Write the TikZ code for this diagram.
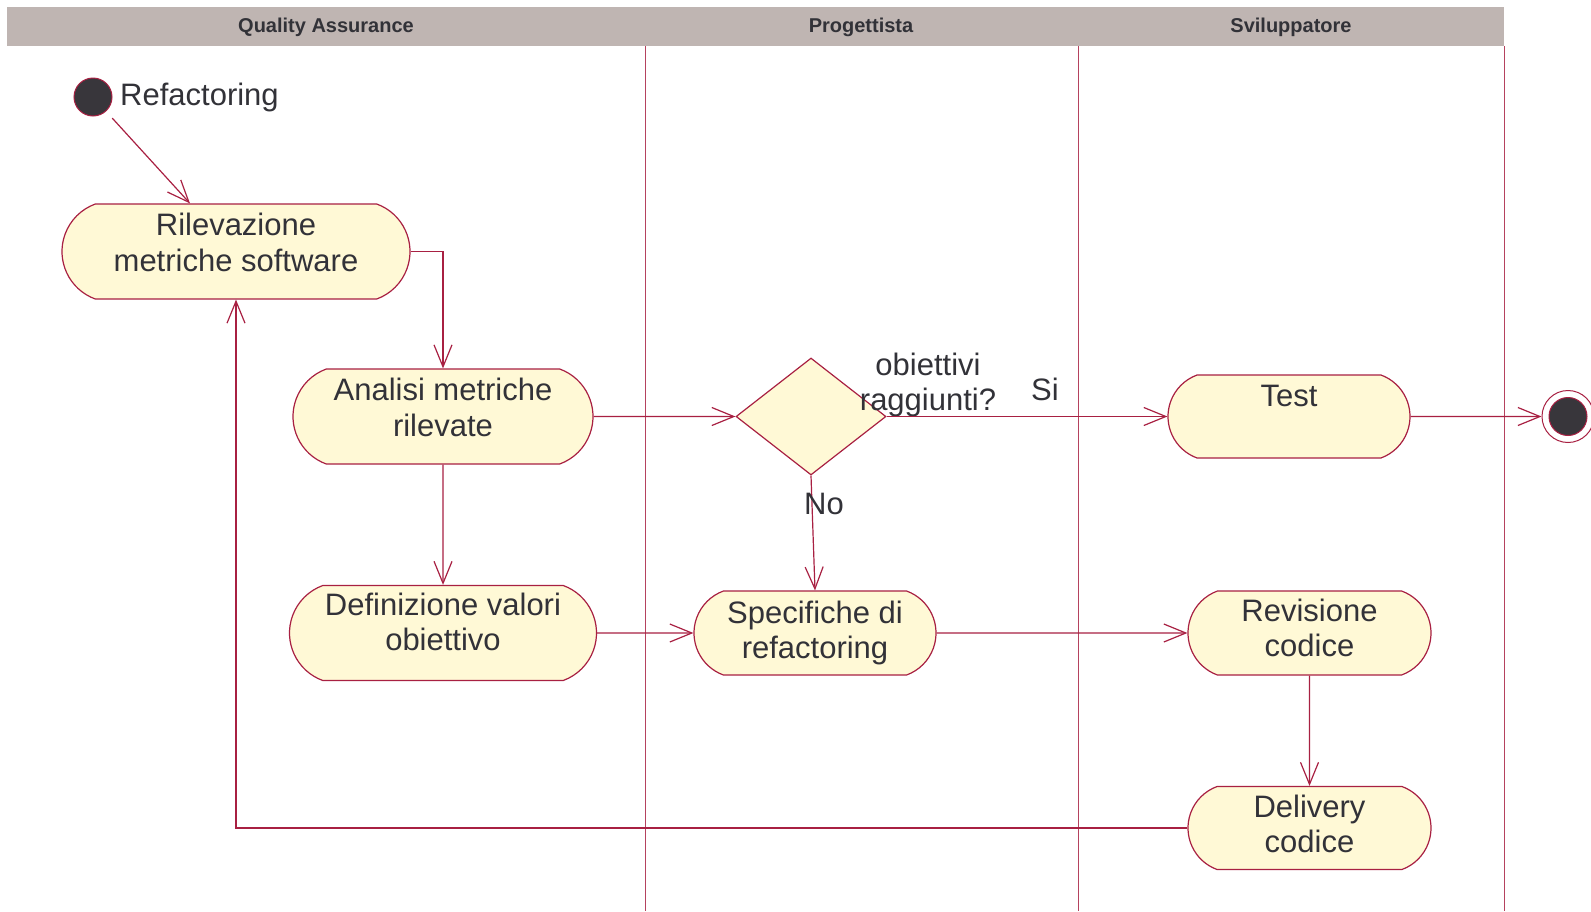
\documentclass[tikz,border=0pt]{standalone}
\usepackage{fontspec}
\setmainfont{Liberation Sans}
\usetikzlibrary{arrows.meta, shapes.geometric, shapes.misc}
\definecolor{umlred}{RGB}{168,32,66}
\definecolor{umlfill}{RGB}{255,249,214}
\definecolor{umlhead}{RGB}{191,181,178}
\definecolor{umltext}{RGB}{50,50,56}
\definecolor{umldot}{RGB}{56,54,59}

\begin{document}
\begin{tikzpicture}[
		x=1pt, y=-1pt,
		activity/.style={rounded rectangle,	rounded rectangle arc length=140,	draw=umlred,	fill=umlfill,	line width=1.2pt,	inner sep=0pt,	align=center,	text=umltext,	font=\fontsize{31}{35.5}\selectfont},
		textlift/.style={execute at end node={\rule[-#1]{0pt}{0pt}}},
		decision/.style={diamond,	draw=umlred,	fill=umlfill,	line width=1.2pt,	inner sep=0pt,	minimum width=150pt,	minimum height=117pt},
		initial/.style ={circle,	draw=umlred,	fill=umldot,	line width=1pt,	inner sep=0pt,	minimum size=38pt},
		final/.style   ={circle,	draw=umlred,	fill=white,	line width=1pt,	inner sep=0pt,	minimum size=52pt},
		caption/.style ={inner sep=0pt,	align=center,	text=umltext,	font=\fontsize{31}{35.5}\selectfont},
		lane/.style    ={inner sep=0pt,	text=umltext,	font=\bfseries\fontsize{20}{24}\selectfont},
		flow/.style    ={draw=umlred,	line width=1.2pt,	-{Straight Barb[length=22pt,width=18pt]}},
	]

	\useasboundingbox (0,0) rectangle (1591,911);

	% swimlanes
	\fill [umlhead] (7,7) rectangle (1504,46);
	\foreach \x in {645,1078,1504}
		\draw [umlred!85,line width=1pt] (\x,46) -- (\x,911);

	\node [lane] (laneqa)  at (326,27)  {Quality Assurance};
	\node [lane] (lanepro) at (861,27)  {Progettista};
	\node [lane] (lanesvi) at (1291,27) {Sviluppatore};

	% nodes
	\node [initial] (start) at (93,97) {};
	\node [caption,anchor=west] (startlabel) at (120,97) {Refactoring};

	\node [activity,textlift=18pt,minimum width=348pt,minimum height=95pt] (rilevazione) at (236,251.5) {Rilevazione\\metriche software};
	\node [activity,textlift=18pt,minimum width=300pt,minimum height=95pt] (analisi)     at (443,416.5) {Analisi metriche\\rilevate};
	\node [activity,textlift=22pt,minimum width=307pt,minimum height=95pt] (definizione) at (443,633)   {Definizione valori\\obiettivo};

	\node [decision] (verifica) at (811,416.5) {};
	\node [caption] (verificalabel) at (928,385) {obiettivi\\raggiunti?};

	\node [activity,minimum width=242pt,minimum height=84pt] (specifiche) at (815,633)    {Specifiche di\\refactoring};
	\node [activity,textlift=6pt,minimum width=242pt,minimum height=83pt] (test)       at (1289,416.5) {Test\\\mbox{}};
	\node [activity,textlift=10pt,minimum width=243pt,minimum height=84pt] (revisione)  at (1309.5,633) {Revisione\\codice};
	\node [activity,textlift=8pt,minimum width=243pt,minimum height=83pt] (delivery)   at (1309.5,828) {Delivery\\codice};

	\node [final] (end) at (1568,416.5) {};
	\node [initial] at (end) {};

	% interconnections
	\draw [flow,shorten <=9pt] (start) -- ([xshift=-46pt]rilevazione.north);
	\draw [flow] (rilevazione.east) -| (analisi.north);
	\draw [flow] (analisi) -- (definizione);
	\draw [flow] (analisi) -- (verifica);
	\draw [flow] (verifica) -- (test);
	\draw [flow] (verifica.south) -- (specifiche.north);
	\draw [flow] (definizione) -- (specifiche);
	\draw [flow] (specifiche) -- (revisione);
	\draw [flow] (revisione) -- (delivery);
	\draw [flow] (delivery.west) -| (rilevazione.south);
	\draw [flow] (test) -- (end);

	\node [caption] (silabel) at (1045,389) {Si};
	\node [caption] (nolabel) at (824,504)  {No};

\end{tikzpicture}
\end{document}
